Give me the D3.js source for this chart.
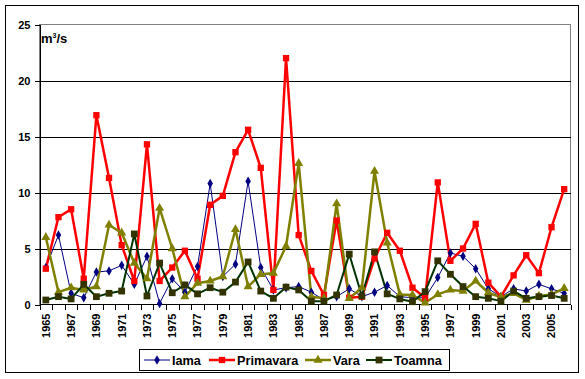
<!DOCTYPE html>
<html>
<head>
  <meta charset="utf-8">
  <style>
    body { margin: 0; background: #fff; }
    text { font-family: Arial, "Liberation Sans", sans-serif; font-weight: bold; fill: #000; }
    .axis path, .axis line { stroke: #000; shape-rendering: crispEdges; }
    .grid line { stroke: #000; shape-rendering: crispEdges; }
    .grid path { stroke-width: 0; }
  </style>
</head>
<body>
  <script src="https://d3js.org/d3.v7.min.js"></script>
  <script>
    // values (m3/s)
    var years = d3.range(1965, 2007).map(String);
    var yTicks = [0, 5, 10, 15, 20, 25];

    var iama = [3.3, 6.2, 1.0, 0.6, 2.9, 3.0, 3.5, 1.8, 4.3, 0.1,
                2.3, 1.1, 3.4, 10.8, 2.5, 3.6, 11.0, 3.3, 1.3, 1.5,
                1.6, 1.1, 0.4, 0.7, 1.4, 0.7, 1.1, 1.7, 0.7, 0.6,
                0.6, 2.4, 4.6, 4.3, 3.2, 1.4, 0.7, 1.4, 1.2, 1.8,
                1.4, 1.0];
    var primavara = [3.2, 7.8, 8.5, 2.3, 16.9, 11.3, 5.3, 2.1, 14.3, 2.1,
                     3.3, 4.8, 2.3, 8.9, 9.7, 13.6, 15.6, 12.2, 1.3, 22.0,
                     6.2, 3.0, 0.85, 7.5, 0.6, 0.7, 4.1, 6.4, 4.8, 1.5,
                     0.6, 10.9, 3.9, 5.0, 7.2, 1.95, 0.7, 2.6, 4.4, 2.8,
                     6.9, 10.3];
    var vara = [6.0, 1.1, 1.5, 1.3, 1.6, 7.1, 6.4, 3.7, 2.3, 8.6,
                5.0, 0.7, 1.9, 2.1, 2.5, 6.7, 1.6, 2.7, 2.8, 5.2,
                12.6, 0.7, 0.55, 9.0, 0.55, 1.5, 11.9, 5.5, 0.9, 0.85,
                0.15, 0.9, 1.3, 1.2, 2.1, 1.05, 0.65, 1.0, 0.4, 0.76,
                0.9, 1.45];
    var toamna = [0.4, 0.7, 0.5, 1.8, 0.7, 1.0, 1.2, 6.3, 0.76, 3.7,
                  1.05, 1.75, 0.95, 1.5, 1.1, 2.0, 3.8, 1.2, 0.55, 1.55,
                  1.3, 0.3, 0.3, 0.85, 4.5, 0.76, 4.7, 0.95, 0.5, 0.25,
                  1.15, 3.9, 2.7, 1.6, 0.7, 0.55, 0.3, 1.2, 0.55, 0.7,
                  0.8, 0.55];

    var seriesNames = ["Iama", "Primavara", "Vara", "Toamna"];

    var series = [
      {name: seriesNames[0], values: iama, line: "#000080", fill: "#000080", width: 1, shape: d3.symbolDiamond, size: 26},
      {name: seriesNames[1], values: primavara, line: "#ff0000", fill: "#ff0000", width: 2.5, shape: d3.symbolSquare, size: 40},
      {name: seriesNames[2], values: vara, line: "#808000", fill: "#808000", width: 2.5, shape: d3.symbolTriangle, size: 36},
      {name: seriesNames[3], values: toamna, line: "#003300", fill: "#333300", width: 2, shape: d3.symbolSquare, size: 46}
    ];

    var W = 585, H = 379;
    var pLeft = 39.5, pRight = 570.5, pTop = 24.5, pBottom = 304.5;

    var svg = d3.select("body").append("svg")
        .attr("width", W)
        .attr("height", H);

    // chart border
    svg.append("rect")
        .attr("x", 5.5).attr("y", 5.5)
        .attr("width", 573).attr("height", 367)
        .attr("fill", "none").attr("stroke", "#000");

    var x = d3.scaleBand().domain(years).range([pLeft, pRight]);
    var y = d3.scaleLinear().domain([0, 25]).range([pBottom, pTop]);

    // plot area border (gray)
    svg.append("rect")
        .attr("x", pLeft).attr("y", pTop)
        .attr("width", pRight - pLeft).attr("height", pBottom - pTop)
        .attr("fill", "none").attr("stroke", "#808080");

    // gridlines
    svg.append("g")
        .attr("class", "grid")
        .attr("transform", "translate(" + pLeft + ",0)")
        .call(d3.axisLeft(y).tickValues([5, 10, 15, 20]).tickSize(-(pRight - pLeft)).tickFormat(""));

    // y axis
    var yAxis = svg.append("g")
        .attr("class", "axis")
        .attr("transform", "translate(" + pLeft + ",0)")
        .call(d3.axisLeft(y).tickValues(yTicks).tickSize(5).tickPadding(4).tickSizeOuter(0));
    yAxis.selectAll("text").style("font-size", "11px").attr("dy", "0.35em");

    // x axis: ticks on category boundaries
    var xAxis = svg.append("g")
        .attr("class", "axis")
        .attr("transform", "translate(0," + pBottom + ")");
    xAxis.append("line")
        .attr("x1", pLeft).attr("x2", pRight)
        .attr("stroke", "#000");
    xAxis.selectAll(".tk")
        .data(years.concat(["end"]))
        .enter().append("line")
        .attr("class", "tk")
        .attr("x1", function(d, i) { return Math.round(pLeft + i * x.step()) + 0.5; })
        .attr("x2", function(d, i) { return Math.round(pLeft + i * x.step()) + 0.5; })
        .attr("y1", 0).attr("y2", 5)
        .attr("stroke", "#000");
    xAxis.selectAll(".lbl")
        .data(years.filter(function(d, i) { return i % 2 == 0; }))
        .enter().append("text")
        .attr("class", "lbl")
        .attr("transform", function(d) { return "translate(" + (x(d) + x.bandwidth() / 2) + ",9) rotate(-90)"; })
        .attr("text-anchor", "end")
        .attr("dy", "0.35em")
        .style("font-size", "11px")
        .text(function(d) { return d; });

    // unit label
    var unit = svg.append("text")
        .attr("x", 41).attr("y", 43)
        .style("font-size", "13px");
    unit.append("tspan").text("m");
    unit.append("tspan").attr("dy", -5).style("font-size", "7px").text("3");
    unit.append("tspan").attr("dy", 5).text("/s");

    // lines and markers
    var cx = function(i) { return x(years[i]) + x.bandwidth() / 2; };
    series.forEach(function(s) {
      var line = d3.line()
          .x(function(d, i) { return cx(i); })
          .y(function(d) { return y(d); });
      svg.append("path")
          .datum(s.values)
          .attr("fill", "none")
          .attr("stroke", s.line)
          .attr("stroke-width", s.width)
          .attr("stroke-linejoin", "round")
          .attr("d", line);
    });
    series.forEach(function(s) {
      var sym = d3.symbol().type(s.shape).size(s.size);
      svg.append("g").selectAll("path")
          .data(s.values)
          .enter().append("path")
          .attr("transform", function(d, i) { return "translate(" + cx(i) + "," + y(d) + ")"; })
          .attr("fill", s.fill)
          .attr("d", sym);
    });

    // legend
    var legend = svg.append("g");
    legend.append("rect")
        .attr("x", 139.5).attr("y", 349.5)
        .attr("width", 310).attr("height", 21)
        .attr("fill", "#fff").attr("stroke", "#000");
    var legX = [144, 209, 305, 366];
    series.forEach(function(s, i) {
      var g = legend.append("g").attr("transform", "translate(" + legX[i] + ",360)");
      g.append("line")
          .attr("x1", 0).attr("x2", 26)
          .attr("stroke", s.line).attr("stroke-width", s.width);
      g.append("path")
          .attr("transform", "translate(13,0)")
          .attr("fill", s.fill)
          .attr("d", d3.symbol().type(s.shape).size(s.size)());
      g.append("text")
          .attr("x", 28).attr("y", 4.5)
          .style("font-size", "12.7px")
          .text(s.name);
    });
  </script>
</body>
</html>
